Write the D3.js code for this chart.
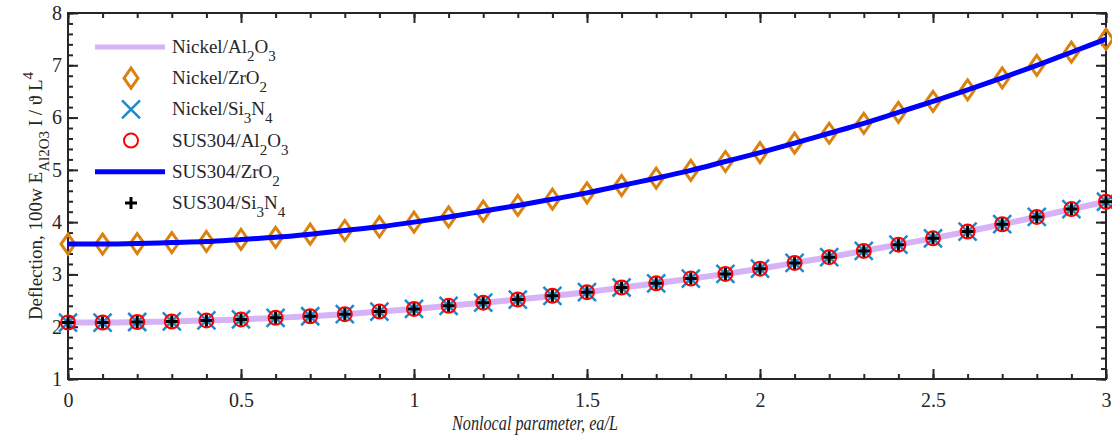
<!DOCTYPE html>
<html>
<head>
<meta charset="utf-8">
<script src="https://cdn.jsdelivr.net/npm/d3@7"></script>
<style>
  body { margin: 0; background: #fff; }
  text { font-family: "Liberation Serif", "Times New Roman", serif; fill: #262626; }
</style>
</head>
<body>
<div id="chart"></div>
<script>
// nonlocal parameter values (x)
const xValues = [0, 0.1, 0.2, 0.3, 0.4, 0.5, 0.6, 0.7, 0.8, 0.9, 1.0,
  1.1, 1.2, 1.3, 1.4, 1.5, 1.6, 1.7, 1.8, 1.9, 2.0,
  2.1, 2.2, 2.3, 2.4, 2.5, 2.6, 2.7, 2.8, 2.9, 3.0];

// ZrO2 curves (Nickel and SUS304 coincide)
const zro2Values = [3.58, 3.58, 3.59, 3.61, 3.63, 3.67, 3.71, 3.77, 3.84, 3.91, 4.00,
  4.10, 4.21, 4.32, 4.44, 4.56, 4.70, 4.84, 4.99, 5.16, 5.33,
  5.51, 5.70, 5.89, 6.10, 6.31, 6.53, 6.76, 7.00, 7.25, 7.50];

// Al2O3 / Si3N4 curves (all four coincide)
const al2o3Values = [2.08, 2.08, 2.09, 2.10, 2.12, 2.14, 2.17, 2.20, 2.24, 2.29, 2.34,
  2.40, 2.46, 2.52, 2.59, 2.66, 2.75, 2.83, 2.92, 3.01, 3.11,
  3.22, 3.33, 3.45, 3.57, 3.69, 3.82, 3.96, 4.10, 4.25, 4.39];
const si3n4Values = al2o3Values;

const xTicks = [0, 0.5, 1, 1.5, 2, 2.5, 3];
const yTicks = [1, 2, 3, 4, 5, 6, 7, 8];

// legend labels, pieces marked "sub" are subscripts
const seriesLabels = [
  [["Nickel/Al"], ["2", "sub"], ["O"], ["3", "sub"]],
  [["Nickel/ZrO"], ["2", "sub"]],
  [["Nickel/Si"], ["3", "sub"], ["N"], ["4", "sub"]],
  [["SUS304/Al"], ["2", "sub"], ["O"], ["3", "sub"]],
  [["SUS304/ZrO"], ["2", "sub"]],
  [["SUS304/Si"], ["3", "sub"], ["N"], ["4", "sub"]]
];

const W = 1112, H = 439;
const margin = { top: 13, right: 6, bottom: 60, left: 68 },
  width = W - margin.left - margin.right,
  height = H - margin.top - margin.bottom;

const svg = d3.select("#chart").append("svg")
  .attr("width", W).attr("height", H);

const g = svg.append("g")
  .attr("transform", `translate(${margin.left},${margin.top})`);

const x = d3.scaleLinear().domain([0, 3]).range([0, width]);
const y = d3.scaleLinear().domain([1, 8]).range([height, 0]);

const axisColor = "#262626";

function styleAxis(sel) {
  sel.select(".domain").remove();
  sel.selectAll("line").attr("stroke", axisColor).attr("stroke-width", 2);
  sel.selectAll("text").style("font-size", "20px").attr("fill", axisColor);
}

// minor ticks
const xMinor = x.ticks(30), yMinor = y.ticks(35);
g.append("g").attr("transform", `translate(0,${height})`)
  .call(d3.axisBottom(x).tickValues(xMinor).tickSize(-5).tickFormat("")).call(styleAxis);
g.append("g")
  .call(d3.axisTop(x).tickValues(xMinor).tickSize(-5).tickFormat("")).call(styleAxis);
g.append("g")
  .call(d3.axisLeft(y).tickValues(yMinor).tickSize(-5).tickFormat("")).call(styleAxis);
g.append("g").attr("transform", `translate(${width},0)`)
  .call(d3.axisRight(y).tickValues(yMinor).tickSize(-5).tickFormat("")).call(styleAxis);

// major ticks
g.append("g").attr("transform", `translate(0,${height})`)
  .call(d3.axisBottom(x).tickValues(xTicks).tickSize(-10).tickPadding(14).tickFormat(d3.format("~g")))
  .call(styleAxis);
g.append("g")
  .call(d3.axisTop(x).tickValues(xTicks).tickSize(-10).tickFormat("")).call(styleAxis);
g.append("g")
  .call(d3.axisLeft(y).tickValues(yTicks).tickSize(-10).tickPadding(6).tickFormat(d3.format("d")))
  .call(styleAxis);
g.append("g").attr("transform", `translate(${width},0)`)
  .call(d3.axisRight(y).tickValues(yTicks).tickSize(-10).tickFormat("")).call(styleAxis);

g.append("rect")
  .attr("width", width).attr("height", height)
  .attr("fill", "none").attr("stroke", axisColor).attr("stroke-width", 2);

// data
const pts = vals => xValues.map((v, i) => [v, vals[i]]);
const line = d3.line().x(d => x(d[0])).y(d => y(d[1])).curve(d3.curveMonotoneX);

const purple = "#d6b3f7", orange = "#d9820f", sky = "#1b8bcf", blue = "#0000ff";

// marker painters
function diamond(sel) {
  sel.append("path").attr("d", "M0,-10L7,0L0,10L-7,0Z")
    .attr("fill", "none").attr("stroke", orange).attr("stroke-width", 3);
}
function cross(sel) {
  sel.append("path").attr("d", "M-9,-9L9,9M-9,9L9,-9")
    .attr("stroke", sky).attr("stroke-width", 2.5);
}
function circle(sel) {
  sel.append("circle").attr("r", 7)
    .attr("fill", "none").attr("stroke", "#ff0000").attr("stroke-width", 2);
}
function plus(sel) {
  sel.append("path").attr("d", "M-6,0L6,0M0,-6L0,6")
    .attr("stroke", "#000").attr("stroke-width", 3);
}

function markers(vals, painter) {
  g.append("g").selectAll("g").data(pts(vals)).enter().append("g")
    .attr("transform", d => `translate(${x(d[0])},${y(d[1])})`)
    .each(function () { painter(d3.select(this)); });
}

// Nickel/Al2O3
g.append("path").datum(pts(al2o3Values)).attr("d", line)
  .attr("fill", "none").attr("stroke", purple).attr("stroke-width", 6);
// Nickel/ZrO2
markers(zro2Values, diamond);
// Nickel/Si3N4
markers(si3n4Values, cross);
// SUS304/Al2O3
markers(al2o3Values, circle);
// SUS304/ZrO2
g.append("path").datum(pts(zro2Values)).attr("d", line)
  .attr("fill", "none").attr("stroke", blue).attr("stroke-width", 5);
// SUS304/Si3N4
markers(si3n4Values, plus);

// legend
const legendKeys = [
  s => s.append("line").attr("x1", -36).attr("x2", 34).attr("stroke", purple).attr("stroke-width", 5),
  diamond, cross, circle,
  s => s.append("line").attr("x1", -36).attr("x2", 34).attr("stroke", blue).attr("stroke-width", 5),
  plus
];
const legend = svg.append("g");
seriesLabels.forEach((parts, i) => {
  const cy = 47 + i * 31.2;
  const key = legend.append("g").attr("transform", `translate(131,${cy})`);
  legendKeys[i](key);
  const t = legend.append("text").attr("x", 172).attr("y", cy + 6).style("font-size", "19px");
  let down = false;
  parts.forEach(p => {
    const isSub = p[1] === "sub";
    const ts = t.append("tspan").text(p[0]);
    if (isSub && !down) { ts.attr("dy", 8).style("font-size", "15px"); down = true; }
    else if (isSub) { ts.style("font-size", "15px"); }
    else if (down) { ts.attr("dy", -8); down = false; }
  });
});

// axis labels (x label is horizontally condensed in the original)
svg.append("text")
  .attr("transform", "translate(535,430) scale(0.81,1)")
  .attr("text-anchor", "middle")
  .style("font-size", "20px").style("font-style", "italic")
  .text("Nonlocal parameter, ea/L");

const yl = svg.append("text")
  .attr("transform", `translate(42,${margin.top + height / 2}) rotate(-90)`)
  .attr("text-anchor", "middle")
  .style("font-size", "19px");
yl.append("tspan").text("Deflection, 100w E");
yl.append("tspan").attr("dy", 7).style("font-size", "15px").text("Al2O3");
yl.append("tspan").attr("dy", -7).text(" I / \u03D1 L");
yl.append("tspan").attr("dy", -9).style("font-size", "15px").text("4");
</script>
</body>
</html>
